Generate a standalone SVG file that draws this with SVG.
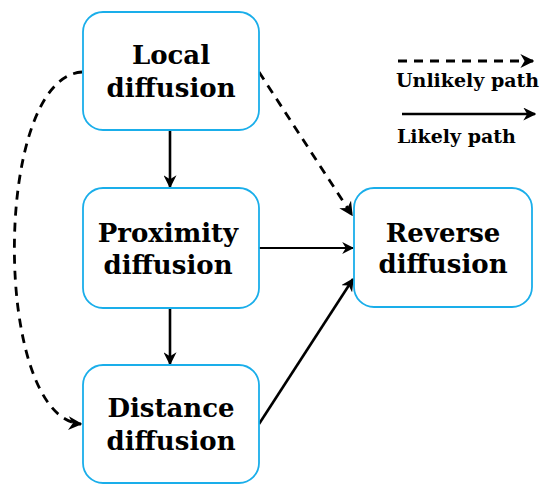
<svg xmlns="http://www.w3.org/2000/svg" width="547" height="484" viewBox="0 0 547 484">
<style>
.node rect{fill:#fff;stroke:#1aaeea;stroke-width:1.8}
.node text{font-family:"DejaVu Serif","Liberation Serif",serif;font-weight:bold;font-size:26px;fill:#000;text-anchor:middle}
.leg{font-family:"DejaVu Serif","Liberation Serif",serif;font-weight:bold;font-size:19px;fill:#000}
.solid{fill:none;stroke:#000;stroke-width:2.6}
.thin{fill:none;stroke:#000;stroke-width:2}
.dash{fill:none;stroke:#000;stroke-width:2.8;stroke-dasharray:9 7}
</style>
<defs>
<marker id="ah" viewBox="0 0 10 10" refX="9" refY="5" markerWidth="5" markerHeight="5" markerUnits="strokeWidth" orient="auto">
<path d="M0,0 L10,5 L0,10 L3,5 z" fill="#000"/>
</marker>
<marker id="ah2" viewBox="0 0 10 10" refX="9" refY="5" markerWidth="6" markerHeight="6" markerUnits="strokeWidth" orient="auto">
<path d="M0,0 L10,5 L0,10 L3,5 z" fill="#000"/>
</marker>
</defs>
<g id="connectors">
<line class="solid" x1="170" y1="131" x2="170" y2="187" marker-end="url(#ah)"/>
<line class="solid" x1="170" y1="309" x2="170" y2="364" marker-end="url(#ah)"/>
<line class="thin" x1="259" y1="248" x2="353" y2="248" marker-end="url(#ah2)"/>
<line class="solid" x1="259" y1="424" x2="353" y2="279" marker-end="url(#ah)"/>
<line class="dash" x1="259" y1="72" x2="352" y2="215" marker-end="url(#ah)"/>
<path class="dash" d="M82,72 C-8,78 -8,418 81,424" marker-end="url(#ah)"/>
</g>
<g id="local" class="node">
<rect x="83" y="12" width="176" height="118" rx="20"/>
<text x="171" y="64">Local</text>
<text x="171" y="97">diffusion</text>
</g>
<g id="proximity" class="node">
<rect x="83" y="188" width="176" height="120" rx="20"/>
<text x="168" y="242">Proximity</text>
<text x="168" y="274">diffusion</text>
</g>
<g id="distance" class="node">
<rect x="83" y="365" width="176" height="118" rx="20"/>
<text x="171" y="417">Distance</text>
<text x="171" y="450">diffusion</text>
</g>
<g id="reverse" class="node">
<rect x="354" y="188" width="178" height="119" rx="20"/>
<text x="443" y="242">Reverse</text>
<text x="443" y="273">diffusion</text>
</g>
<g id="legend">
<line class="dash" x1="398" y1="61" x2="533" y2="61" marker-end="url(#ah)"/>
<text class="leg" x="396" y="87">Unlikely path</text>
<line class="solid" x1="402" y1="114" x2="535" y2="114" marker-end="url(#ah)"/>
<text class="leg" x="397" y="143">Likely path</text>
</g>
</svg>
